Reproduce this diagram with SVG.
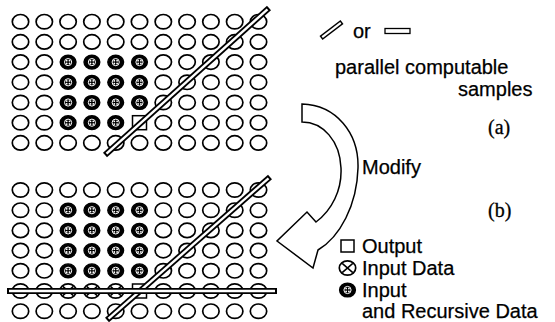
<svg xmlns="http://www.w3.org/2000/svg" xmlns:xlink="http://www.w3.org/1999/xlink" width="555" height="322" viewBox="0 0 555 322">
<style>
.c{fill:#fff;stroke:#000;stroke-width:1.7}
.f{fill:#000;stroke:#000;stroke-width:1.4}
.w{fill:none;stroke:#fff;stroke-width:1}
.sq{fill:#fff;stroke:#000;stroke-width:1.5}
.dl{stroke:#000;stroke-width:6;fill:none}
.dw{stroke:#fff;stroke-width:2.4;fill:none}
.t{font-family:"Liberation Sans",Arial,sans-serif;font-size:20px;fill:#000;stroke:#000;stroke-width:0.25}
.s{font-family:"Liberation Serif","Times New Roman",serif;font-size:20px;fill:#000;stroke:#000;stroke-width:0.3}
</style>
<defs>
<g id="h"><ellipse class="c" rx="8.2" ry="7.2"/></g>
<g id="r"><ellipse class="f" rx="7.9" ry="6.9"/><circle class="w" r="3.6"/><circle fill="#fff" cx="-1.4" cy="-1.4" r="0.9"/><circle fill="#fff" cx="1.4" cy="-1.4" r="0.9"/><circle fill="#fff" cx="-1.4" cy="1.4" r="0.9"/><circle fill="#fff" cx="1.4" cy="1.4" r="0.9"/></g>
<g id="x"><ellipse class="c" rx="8.2" ry="7.2"/><path d="M-5.3,-4.6L5.3,4.6M5.3,-4.6L-5.3,4.6" stroke="#000" stroke-width="1.5"/></g>
</defs>

<g id="grid-a">
<use href="#h" x="20.5" y="21.7"/><use href="#h" x="44.3" y="21.7"/><use href="#h" x="68.1" y="21.7"/><use href="#h" x="91.9" y="21.7"/><use href="#h" x="115.7" y="21.7"/><use href="#h" x="139.5" y="21.7"/><use href="#h" x="163.3" y="21.7"/><use href="#h" x="187.1" y="21.7"/><use href="#h" x="210.9" y="21.7"/><use href="#h" x="234.7" y="21.7"/><use href="#h" x="258.5" y="21.7"/>
<use href="#h" x="20.5" y="41.9"/><use href="#h" x="44.3" y="41.9"/><use href="#h" x="68.1" y="41.9"/><use href="#h" x="91.9" y="41.9"/><use href="#h" x="115.7" y="41.9"/><use href="#h" x="139.5" y="41.9"/><use href="#h" x="163.3" y="41.9"/><use href="#h" x="187.1" y="41.9"/><use href="#h" x="210.9" y="41.9"/><use href="#h" x="234.7" y="41.9"/><use href="#h" x="258.5" y="41.9"/>
<use href="#h" x="20.5" y="62.1"/><use href="#h" x="44.3" y="62.1"/><use href="#r" x="68.1" y="62.1"/><use href="#r" x="91.9" y="62.1"/><use href="#r" x="115.7" y="62.1"/><use href="#r" x="139.5" y="62.1"/><use href="#h" x="163.3" y="62.1"/><use href="#h" x="187.1" y="62.1"/><use href="#h" x="210.9" y="62.1"/><use href="#h" x="234.7" y="62.1"/><use href="#h" x="258.5" y="62.1"/>
<use href="#h" x="20.5" y="82.3"/><use href="#h" x="44.3" y="82.3"/><use href="#r" x="68.1" y="82.3"/><use href="#r" x="91.9" y="82.3"/><use href="#r" x="115.7" y="82.3"/><use href="#r" x="139.5" y="82.3"/><use href="#h" x="163.3" y="82.3"/><use href="#h" x="187.1" y="82.3"/><use href="#h" x="210.9" y="82.3"/><use href="#h" x="234.7" y="82.3"/><use href="#h" x="258.5" y="82.3"/>
<use href="#h" x="20.5" y="102.5"/><use href="#h" x="44.3" y="102.5"/><use href="#r" x="68.1" y="102.5"/><use href="#r" x="91.9" y="102.5"/><use href="#r" x="115.7" y="102.5"/><use href="#r" x="139.5" y="102.5"/><use href="#h" x="163.3" y="102.5"/><use href="#h" x="187.1" y="102.5"/><use href="#h" x="210.9" y="102.5"/><use href="#h" x="234.7" y="102.5"/><use href="#h" x="258.5" y="102.5"/>
<use href="#h" x="20.5" y="122.7"/><use href="#h" x="44.3" y="122.7"/><use href="#r" x="68.1" y="122.7"/><use href="#r" x="91.9" y="122.7"/><use href="#r" x="115.7" y="122.7"/><rect class="sq" x="132.5" y="115.7" width="14" height="14"/><use href="#h" x="163.3" y="122.7"/><use href="#h" x="187.1" y="122.7"/><use href="#h" x="210.9" y="122.7"/><use href="#h" x="234.7" y="122.7"/><use href="#h" x="258.5" y="122.7"/>
<use href="#h" x="20.5" y="142.9"/><use href="#h" x="44.3" y="142.9"/><use href="#h" x="68.1" y="142.9"/><use href="#h" x="91.9" y="142.9"/><use href="#h" x="115.7" y="142.9"/><use href="#h" x="139.5" y="142.9"/><use href="#h" x="163.3" y="142.9"/><use href="#h" x="187.1" y="142.9"/><use href="#h" x="210.9" y="142.9"/><use href="#h" x="234.7" y="142.9"/><use href="#h" x="258.5" y="142.9"/>
</g>

<g id="grid-b">
<use href="#h" x="20.5" y="190"/><use href="#h" x="44.3" y="190"/><use href="#h" x="68.1" y="190"/><use href="#h" x="91.9" y="190"/><use href="#h" x="115.7" y="190"/><use href="#h" x="139.5" y="190"/><use href="#h" x="163.3" y="190"/><use href="#h" x="187.1" y="190"/><use href="#h" x="210.9" y="190"/><use href="#h" x="234.7" y="190"/><use href="#h" x="258.5" y="190"/>
<use href="#h" x="20.5" y="210.2"/><use href="#h" x="44.3" y="210.2"/><use href="#r" x="68.1" y="210.2"/><use href="#r" x="91.9" y="210.2"/><use href="#r" x="115.7" y="210.2"/><use href="#r" x="139.5" y="210.2"/><use href="#h" x="163.3" y="210.2"/><use href="#h" x="187.1" y="210.2"/><use href="#h" x="210.9" y="210.2"/><use href="#h" x="234.7" y="210.2"/><use href="#h" x="258.5" y="210.2"/>
<use href="#h" x="20.5" y="230.4"/><use href="#h" x="44.3" y="230.4"/><use href="#r" x="68.1" y="230.4"/><use href="#r" x="91.9" y="230.4"/><use href="#r" x="115.7" y="230.4"/><use href="#r" x="139.5" y="230.4"/><use href="#h" x="163.3" y="230.4"/><use href="#h" x="187.1" y="230.4"/><use href="#h" x="210.9" y="230.4"/><use href="#h" x="234.7" y="230.4"/><use href="#h" x="258.5" y="230.4"/>
<use href="#h" x="20.5" y="250.6"/><use href="#h" x="44.3" y="250.6"/><use href="#r" x="68.1" y="250.6"/><use href="#r" x="91.9" y="250.6"/><use href="#r" x="115.7" y="250.6"/><use href="#r" x="139.5" y="250.6"/><use href="#h" x="163.3" y="250.6"/><use href="#h" x="187.1" y="250.6"/><use href="#h" x="210.9" y="250.6"/><use href="#h" x="234.7" y="250.6"/><use href="#h" x="258.5" y="250.6"/>
<use href="#h" x="20.5" y="270.8"/><use href="#h" x="44.3" y="270.8"/><use href="#r" x="68.1" y="270.8"/><use href="#r" x="91.9" y="270.8"/><use href="#r" x="115.7" y="270.8"/><use href="#r" x="139.5" y="270.8"/><use href="#h" x="163.3" y="270.8"/><use href="#h" x="187.1" y="270.8"/><use href="#h" x="210.9" y="270.8"/><use href="#h" x="234.7" y="270.8"/><use href="#h" x="258.5" y="270.8"/>
<use href="#h" x="20.5" y="291"/><use href="#h" x="44.3" y="291"/><use href="#x" x="68.1" y="291"/><use href="#x" x="91.9" y="291"/><use href="#x" x="115.7" y="291"/><rect class="sq" x="132.5" y="284" width="14" height="14"/><use href="#h" x="163.3" y="291"/><use href="#h" x="187.1" y="291"/><use href="#h" x="210.9" y="291"/><use href="#h" x="234.7" y="291"/><use href="#h" x="258.5" y="291"/>
<use href="#h" x="20.5" y="311.2"/><use href="#h" x="44.3" y="311.2"/><use href="#h" x="68.1" y="311.2"/><use href="#h" x="91.9" y="311.2"/><use href="#h" x="115.7" y="311.2"/><use href="#h" x="139.5" y="311.2"/><use href="#h" x="163.3" y="311.2"/><use href="#h" x="187.1" y="311.2"/><use href="#h" x="210.9" y="311.2"/><use href="#h" x="234.7" y="311.2"/><use href="#h" x="258.5" y="311.2"/>
</g>

<g id="connectors">
<line class="dl" x1="105" y1="155" x2="269" y2="8"/><line class="dw" x1="106.5" y1="153.7" x2="267.5" y2="9.3"/>
<line class="dl" x1="107" y1="320" x2="270" y2="177"/><line class="dw" x1="108.5" y1="318.7" x2="268.5" y2="178.3"/>
<line class="dl" x1="7" y1="291" x2="277" y2="291"/><line class="dw" x1="9" y1="291" x2="275" y2="291"/>
</g>

<g id="arrow">
<path d="M302,104 C336,105 359,133 358,168 C357,205 340,237 318,250 L313,268 L277,241 L307,212 L316,222 C332,210 342,190 341,168 C340,141 323,122 302,122 Z" fill="#fff" stroke="#000" stroke-width="1.5" stroke-linejoin="miter"/>
</g>

<g id="legend-top">
<line class="dl" x1="321" y1="38" x2="342" y2="22" style="stroke-width:5"/><line class="dw" x1="322.2" y1="37.1" x2="340.8" y2="22.9" style="stroke-width:2"/>
<text class="t" x="353" y="38">or</text>
<rect x="385" y="28.5" width="25" height="5" fill="#fff" stroke="#000" stroke-width="1.3"/>
<text class="t" x="335" y="74">parallel computable</text>
<text class="t" x="458" y="96">samples</text>
</g>

<g id="labels">
<text class="t" x="362" y="174">Modify</text>
<text class="s" x="488" y="134">(a)</text>
<text class="s" x="488" y="217">(b)</text>
</g>

<g id="legend-bottom">
<rect class="sq" x="341" y="240" width="13" height="12"/>
<text class="t" x="362" y="253">Output</text>
<use href="#x" x="347.5" y="268"/>
<text class="t" x="362" y="275">Input Data</text>
<use href="#r" x="347.5" y="290"/>
<text class="t" x="362" y="297">Input</text>
<text class="t" x="362" y="318">and Recursive Data</text>
</g>
</svg>
